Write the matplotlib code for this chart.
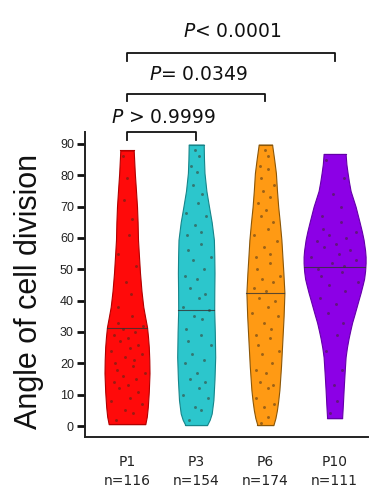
import numpy as np
import matplotlib
matplotlib.use('Agg')
import matplotlib.pyplot as plt

# groups
groups = ['P1', 'P3', 'P6', 'P10']
counts = [116, 154, 174, 111]
colors = ['#FF0A0A', '#2CC6CC', '#FF9A14', '#8C00E6']
edges = ['#B00000', '#16858A', '#8A5608', '#6400A8']

# violin outlines: angle -> half width (px)
red_y = [0.6, 3, 6.1, 11, 16.9, 21, 25.2, 28.5, 31.6, 35, 38, 43, 48.8, 54, 59.4, 65, 70, 75,
         80.7, 87.9]
red_w = [18.3, 19.8, 20.8, 21.8, 22.5, 22.3, 21.8, 21, 20, 18, 16.3, 14.5, 13, 12, 11, 10.6,
         10, 9, 7.8, 6.7]
cyan_y = [0.3, 2, 4, 8.3, 15, 22, 30, 37, 43, 48.8, 54, 59.4, 65, 70, 75, 80.7, 85, 89.8]
cyan_w = [10.8, 13.5, 15.5, 17.2, 18.3, 19, 18.6, 18, 18.1, 18.3, 18.1, 17.7, 15.5, 12.8, 10.2,
          8.3, 7.8, 7.5]
orange_y = [0.3, 2.5, 5, 8, 11.5, 19, 27.5, 35, 42.5, 48.8, 54, 59.4, 65, 70, 75, 80.7, 85, 89.8]
orange_w = [8, 10, 11.5, 12.8, 14, 15.6, 17, 18.2, 19, 18, 17, 16, 14.4, 12.8, 11.6, 10.5, 8.8,
            6.7]
purple_y = [2.5, 7, 11.5, 17, 22, 25, 28, 30.5, 33, 35.5, 38, 40.5, 42.5, 45, 47, 49.5, 52, 54,
            56, 59.4, 62, 65, 67.5, 70, 72.5, 75, 78, 80.7, 83.5, 86.8]
purple_w = [7.5, 8.3, 9, 10, 11, 12.3, 14, 15.7, 17.5, 19.8, 22, 24.2, 26, 28, 29.5, 30.5, 31,
            31, 30.5, 29, 27.3, 25, 23, 21, 18.5, 16, 14.3, 13, 11.8, 11]
profiles = [(red_y, red_w), (cyan_y, cyan_w), (orange_y, orange_w), (purple_y, purple_w)]

medians = [31.3, 37.0, 42.5, 50.8]

# individual cells (estimated)
red_pts = [2, 4, 5, 7, 8, 9, 11, 12, 13, 14, 15, 16, 17, 18, 19, 20, 21, 22, 23, 24, 25, 26,
           27, 28, 29, 30, 31, 32, 33, 35, 38, 42, 46, 51, 55, 61, 66, 72, 79, 86]
cyan_pts = [2, 5, 6, 9, 10, 12, 14, 15, 17, 20, 21, 23, 26, 27, 29, 31, 34, 35, 37, 38, 41, 42,
            44, 47, 48, 50, 53, 54, 56, 58, 61, 62, 64, 67, 68, 71, 74, 77, 81, 83, 86, 88]
orange_pts = [1, 3, 6, 7, 9, 12, 13, 14, 17, 18, 20, 23, 24, 26, 28, 29, 31, 33, 35, 36, 38, 40,
              41, 43, 44, 46, 47, 48, 50, 52, 54, 55, 57, 59, 61, 63, 65, 67, 69, 71, 73, 75,
              77, 79, 82, 83, 86, 88]
purple_pts = [4, 8, 13, 18, 24, 29, 33, 36, 39, 41, 43, 45, 46, 48, 49, 50, 51, 52, 53, 54, 55,
              56, 57, 58, 59, 60, 61, 62, 63, 65, 67, 70, 74, 79, 85]
points = [red_pts, cyan_pts, orange_pts, purple_pts]

# comparisons
comparisons = [(0, 1), (0, 2), (0, 3)]
p_labels = [r'$P$ > 0.9999', r'$P$= 0.0349', r'$P$< 0.0001']

px = 69.2  # px per category step
jit = [-0.55, 0.3, -0.1, 0.7, -0.75, 0.15, 0.5, -0.35, 0.05, -0.6, 0.4, -0.2, 0.8, -0.45, 0.25]

fig = plt.figure(figsize=(3.7, 4.88), dpi=100)
ax = fig.add_axes([85 / 370, 51 / 488, 283 / 370, 305 / 488])

for i, (yy, ww) in enumerate(profiles):
    yy = np.array(yy)
    ww = np.array(ww) / px
    ax.fill_betweenx(yy, i - ww, i + ww, facecolor=colors[i], edgecolor=edges[i], lw=0.8, zorder=2)
    ax.plot([i - ww[-1], i + ww[-1]], [yy[-1], yy[-1]], color=edges[i], lw=0.8, zorder=2)
    ax.plot([i - ww[0], i + ww[0]], [yy[0], yy[0]], color=edges[i], lw=0.8, zorder=2)
    # dots
    pts = np.array(points[i], dtype=float)
    hw = np.interp(pts, yy, ww)
    xs = i + np.array([jit[k % len(jit)] for k in range(len(pts))]) * hw
    ax.scatter(xs, pts, s=4.5, color='#3a2a1a', alpha=0.5, lw=0, zorder=3)
    # median
    mw = np.interp(medians[i], yy, ww)
    ax.plot([i - mw, i + mw], [medians[i], medians[i]], color='#333333', lw=0.8, alpha=0.8, zorder=4)

ax.set_xlim(-42 / px, 241 / px)
ax.set_ylim(-3.5, 93.8)
ax.set_yticks(range(0, 91, 10))
ax.set_yticklabels([str(v) for v in range(0, 91, 10)], fontsize=9, family='Liberation Sans',
                   color='#222222')
ax.tick_params(axis='y', length=6, width=2, pad=2, color='#111111')
ax.set_xticks(range(4))
ax.set_xticklabels(['%s\nn=%d' % (g, n) for g, n in zip(groups, counts)], fontsize=10,
                   linespacing=1.45, color='#222222')
ax.tick_params(axis='x', length=0, pad=13)
for s in ['top', 'right']:
    ax.spines[s].set_visible(False)
for s in ['left', 'bottom']:
    ax.spines[s].set_linewidth(1.4)
    ax.spines[s].set_color('#222222')

fig.text(29 / 370, 1 - 291.5 / 488, 'Angle of cell division', rotation=90, ha='center',
         va='center', fontsize=22, family='Liberation Sans', color='#111111')

# significance brackets
br_y = [93.8, 106.0, 119.0]
tx_y = [98.3, 112.0, 125.8]
for (a, b), lab, by, ty in zip(comparisons, p_labels, br_y, tx_y):
    ax.plot([a, a, b, b], [by - 2.4, by, by, by - 2.4], color='#111111', lw=1.3, clip_on=False)
    ax.text((a + b) / 2 + 0.03, ty, lab, ha='center', va='center', fontsize=13.5, color='#111111',
            clip_on=False)

fig.savefig('out.png', dpi=100)
